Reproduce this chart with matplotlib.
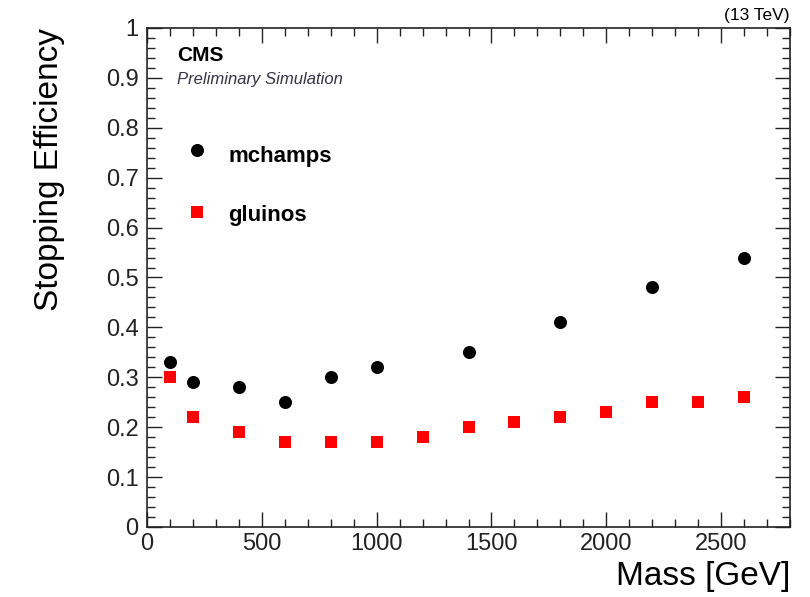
"""Stopping efficiency versus mass for mchamps and gluinos."""

import matplotlib.pyplot as plt
from matplotlib.ticker import MultipleLocator

plt.rcParams["font.family"] = ["Liberation Sans", "DejaVu Sans"]

mchamp_mass = [100, 200, 400, 600, 800, 1000, 1400, 1800, 2200, 2600]
mchamp_eff = [0.33, 0.29, 0.28, 0.25, 0.30, 0.32, 0.35, 0.41, 0.48, 0.54]

gluino_mass = [100, 200, 400, 600, 800, 1000, 1200, 1400, 1600, 1800, 2000, 2200, 2400, 2600]
gluino_eff = [0.30, 0.22, 0.19, 0.17, 0.17, 0.17, 0.18, 0.20, 0.21, 0.22, 0.23, 0.25, 0.25, 0.26]

FRAME = "#222222"


def main() -> None:
    fig = plt.figure(figsize=(8.1, 5.97), dpi=100)
    ax = fig.add_axes([0.1815, 0.1173, 0.7938, 0.8358])

    ax.plot(mchamp_mass, mchamp_eff, "o", color="black", markersize=9.4,
            markeredgewidth=0, clip_on=False)
    ax.plot(gluino_mass, gluino_eff, "s", color="#ff0000", markersize=8.6,
            markeredgewidth=0, clip_on=False)

    ax.set_xlim(0, 2800)
    ax.set_ylim(0, 1)
    ax.xaxis.set_major_locator(MultipleLocator(500))
    ax.xaxis.set_minor_locator(MultipleLocator(100))
    ax.yaxis.set_major_locator(MultipleLocator(0.1))
    ax.yaxis.set_minor_locator(MultipleLocator(0.02))
    ax.yaxis.set_major_formatter(plt.FuncFormatter(lambda v, _: f"{v:g}"))

    ax.tick_params(which="both", direction="in", top=True, right=True,
                   labelsize=17, width=1, colors=FRAME)
    ax.tick_params(which="major", length=11)
    ax.tick_params(which="minor", length=5.5)
    ax.tick_params(axis="x", pad=4)
    ax.tick_params(axis="y", pad=6)
    for spine in ax.spines.values():
        spine.set_linewidth(1.2)
        spine.set_color(FRAME)

    ax.set_xlabel("Mass [GeV]", fontsize=24, loc="right")
    ax.xaxis.set_label_coords(1.0, -0.068)
    ax.set_ylabel("Stopping Efficiency", fontsize=24, loc="top")
    ax.yaxis.set_label_coords(-0.128, 1.0)

    # CMS label and legend entries inside the frame
    ax.text(0.0467, 0.944, "CMS", transform=ax.transAxes, fontsize=15,
            fontweight="bold", va="center")
    ax.text(0.0467, 0.896, "Preliminary Simulation", transform=ax.transAxes,
            fontsize=12, style="italic", va="center", color="#333344")
    ax.text(1.0, 1.026, "(13 TeV)", transform=ax.transAxes, fontsize=12.5,
            ha="right", va="center")

    ax.plot([0.0773], [0.7555], "o", transform=ax.transAxes, color="black",
            markersize=9.4, markeredgewidth=0)
    ax.text(0.126, 0.7415, "mchamps", transform=ax.transAxes, fontsize=16,
            fontweight="bold", va="center")
    ax.plot([0.0773], [0.632], "s", transform=ax.transAxes, color="#ff0000",
            markersize=8.6, markeredgewidth=0)
    ax.text(0.126, 0.625, "gluinos", transform=ax.transAxes, fontsize=16,
            fontweight="bold", va="center")

    fig.savefig("out.png", dpi=100)
    plt.close(fig)


if __name__ == "__main__":
    main()
